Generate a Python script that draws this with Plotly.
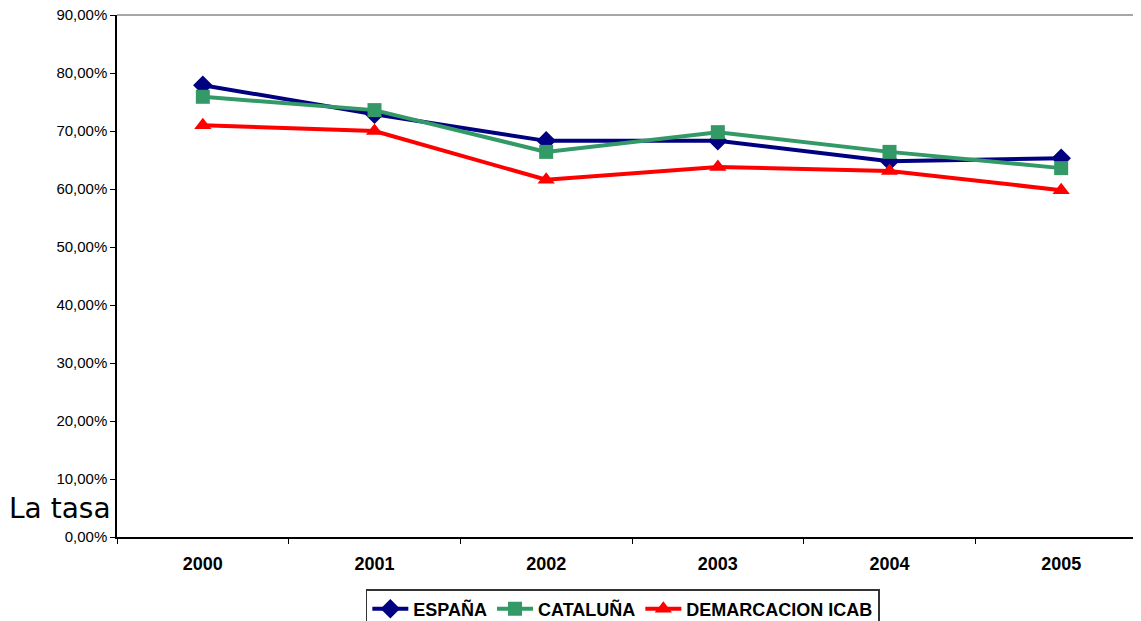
import plotly.graph_objects as go

years = ["2000", "2001", "2002", "2003", "2004", "2005"]
espana = [77.9, 72.9, 68.3, 68.3, 64.8, 65.3]
cataluna = [75.9, 73.6, 66.4, 69.8, 66.4, 63.6]
icab = [71.0, 70.0, 61.6, 63.8, 63.1, 59.8]
series_names = ["ESPAÑA", "CATALUÑA", "DEMARCACION ICAB"]
y_ticks = [0, 10, 20, 30, 40, 50, 60, 70, 80, 90]

fig = go.Figure()
specs = [
    (espana, "#000080", "diamond", 15),
    (cataluna, "#339966", "square", 14),
    (icab, "#FF0000", "triangle-up", 15),
]
for name, (vals, col, sym, sz) in zip(series_names, specs):
    fig.add_trace(go.Scatter(
        x=years, y=[v / 100 for v in vals], name=name, mode="lines+markers",
        line=dict(color=col, width=4),
        marker=dict(symbol=sym, size=sz, color=col),
    ))

# page body has an 8px margin, so the figure is sized/offset to compensate
fig.update_layout(
    width=1133, height=613,
    margin=dict(l=109, r=0, t=7, b=84, autoexpand=False),
    plot_bgcolor="white", paper_bgcolor="white",
    font=dict(family="Liberation Sans, Arial", size=15, color="black"),
    separators=",.",
    showlegend=True,
    legend=dict(
        orientation="h", x=0.243, xanchor="left", y=(529 - 581) / 522, yanchor="top",
        bordercolor="#333333", borderwidth=1.5,
        font=dict(family="Liberation Sans, Arial", size=18, color="black", weight="bold"),
        itemwidth=36, tracegroupgap=0,
    ),
    xaxis=dict(
        type="category", range=[-0.5, 5.465], automargin=False,
        showline=True, linecolor="black", linewidth=1.5,
        ticks="outside", ticklen=5, tickcolor="black", tickson="boundaries",
        tickfont=dict(family="Liberation Sans, Arial", size=18, weight="bold"),
        showgrid=False, zeroline=False, ticklabelstandoff=10,
    ),
    yaxis=dict(
        range=[0, 0.9], tickvals=[t / 100 for t in y_ticks], tickformat=".2%",
        automargin=False, ticklabeloverflow="allow",
        showline=True, linecolor="black", linewidth=1.5,
        ticks="outside", ticklen=5, tickcolor="black",
        showgrid=False, zeroline=False,
        tickfont=dict(family="Liberation Sans, Arial", size=15),
    ),
    shapes=[dict(type="line", xref="paper", yref="paper", x0=0, x1=1, y0=1, y1=1,
                 line=dict(color="#888888", width=1.5))],
    annotations=[dict(text="La tasa", xref="paper", yref="paper",
                      x=-0.004, xanchor="right", y=(529 - 500) / 522, yanchor="middle",
                      showarrow=False,
                      font=dict(family="DejaVu Sans", size=28, color="black"))],
)

fig.write_html("out.html")
